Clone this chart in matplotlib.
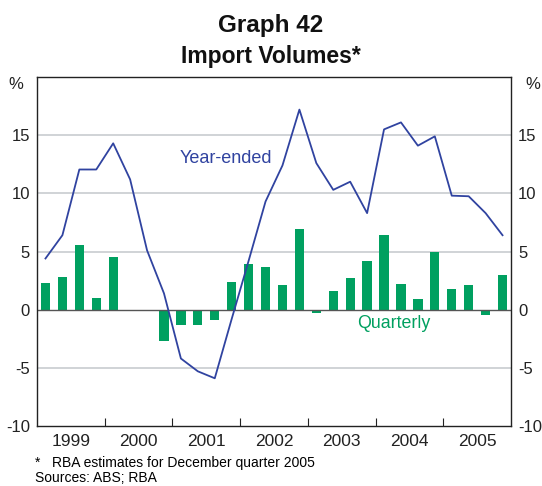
import numpy as np
import matplotlib.pyplot as plt

plt.rcParams['font.family'] = ['Liberation Sans', 'DejaVu Sans']

years = ['1999', '2000', '2001', '2002', '2003', '2004', '2005']

# quarterly growth, 1999 Q1 .. 2005 Q4
quarterly = [2.3, 2.8, 5.6, 1.0,
             4.5, -0.15, -0.1, -2.7,
             -1.35, -1.3, -0.9, 2.4,
             3.9, 3.7, 2.1, 6.9,
             -0.25, 1.6, 2.7, 4.2,
             6.4, 2.2, 0.9, 5.0,
             1.75, 2.1, -0.5, 3.0]

# year-ended growth
year_ended = [4.4, 6.4, 12.05, 12.05,
              14.3, 11.2, 5.1, 1.4,
              -4.2, -5.3, -5.9, -0.8,
              4.2, 9.3, 12.4, 17.2,
              12.6, 10.3, 11.0, 8.3,
              15.5, 16.1, 14.1, 14.9,
              9.8, 9.75, 8.3, 6.4]

blue = '#3043a0'
green = '#00a060'

fig = plt.figure(figsize=(5.42, 4.86), dpi=100)
ax = fig.add_axes([0.0683, 0.1235, 0.8745, 0.718])

x = np.arange(len(quarterly)) + 0.5
ax.bar(x, quarterly, width=0.55, color=green, zorder=2)
ax.plot(x, year_ended, color=blue, lw=1.3, zorder=3)

ax.set_xlim(0, len(quarterly))
ax.set_ylim(-10, 20)

yt = [-10, -5, 0, 5, 10, 15]
for v in [-5, 5, 10, 15]:
    ax.axhline(v, color='#c8ccd0', lw=1.2, zorder=1)
ax.axhline(0, color='#555555', lw=1.0, zorder=2.5)

ax.set_yticks(yt)
ax.set_yticklabels([str(v) for v in yt])
ax.tick_params(axis='y', length=0, labelsize=12, pad=5,
               right=True, labelright=True, colors='#222222')

ax.set_xticks(np.arange(4, len(quarterly), 4))
ax.set_xticklabels([])
ax.set_xticks(np.arange(2, len(quarterly), 4), minor=True)
ax.set_xticklabels(years, minor=True)
ax.tick_params(axis='x', which='major', direction='in', length=6,
               color='#222222')
ax.tick_params(axis='x', which='minor', length=0, labelsize=12.5, pad=6,
               labelcolor='#222222')

for s in ax.spines.values():
    s.set_color('#222222')
    s.set_linewidth(1.0)

ax.text(-0.03, 1.0, '%', transform=ax.transAxes, ha='right', va='top',
        fontsize=12, color='#222222')
ax.text(1.03, 1.0, '%', transform=ax.transAxes, ha='left', va='top',
        fontsize=12, color='#222222')

ax.text(8.45, 12.97, 'Year-ended', color=blue, fontsize=13, ha='left',
        va='center')
ax.text(21.1, -1.2, 'Quarterly', color=green, fontsize=12.8, ha='center',
        va='center')

fig.text(0.5, 0.934, 'Graph 42', ha='center', va='baseline', fontsize=17.5,
         fontweight='bold', color='#111111')
fig.text(0.5, 0.870, 'Import Volumes*', ha='center', va='baseline',
         fontsize=16.5, fontweight='bold', color='#111111')

fig.text(0.064, 0.040, '*   RBA estimates for December quarter 2005',
         fontsize=10, va='baseline', ha='left')
fig.text(0.064, 0.008, 'Sources: ABS; RBA', fontsize=10, va='baseline',
         ha='left')

fig.savefig('out.png', dpi=100)
